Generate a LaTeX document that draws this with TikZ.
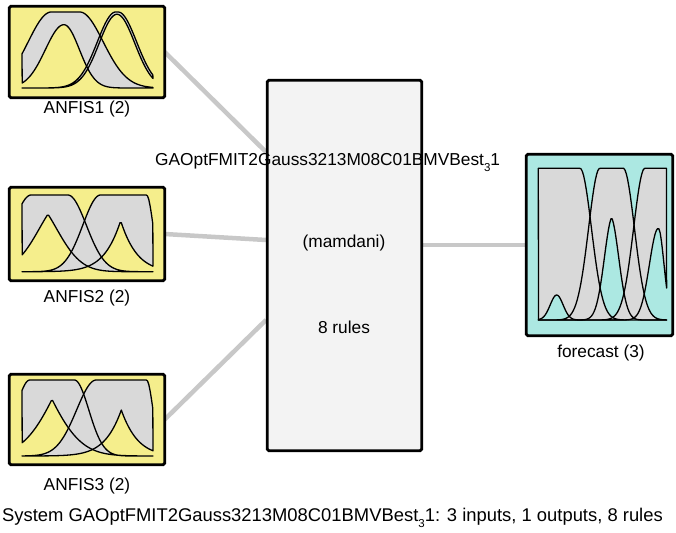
\documentclass[tikz,border=0pt]{standalone}
\usepackage{fontspec}
\setmainfont{Liberation Sans}
\definecolor{inyellow}{RGB}{245,238,140}
\definecolor{outteal}{RGB}{172,232,226}
\definecolor{mfgray}{RGB}{217,217,217}
\definecolor{sysfill}{RGB}{243,243,243}
\definecolor{linkgray}{RGB}{200,200,200}
\pgfdeclarelayer{bg}
\pgfsetlayers{bg,main}
% upper MF: flat top between c1 and c2, gaussian sides (u,c1,c2,sL,sR)
\pgfmathdeclarefunction{upmf}{5}{%
  \begingroup
  \pgfmathparse{((#1)<(#2))*exp(-min((((#1)-(#2))*((#1)-(#2)))/(2*(#4)*(#4)),15)) + ((#1)>(#3))*exp(-min((((#1)-(#3))*((#1)-(#3)))/(2*(#5)*(#5)),15)) + (1-((#1)<(#2)))*(1-((#1)>(#3)))}%
  \pgfmathsmuggle\pgfmathresult
  \endgroup}
% lower MF: peak (u,m,h,XL,XR,k)
\pgfmathdeclarefunction{lomf}{6}{%
  \begingroup
  \pgfmathparse{(#3)*exp(-min(((abs((#1)-(#2))+(#6))*(abs((#1)-(#2))+(#6))-(#6)*(#6))/(((#1)<(#2))*(#4)+(1-((#1)<(#2)))*(#5)),15))}%
  \pgfmathsmuggle\pgfmathresult
  \endgroup}
\newcommand\MFfill[9]{\fill[mfgray] plot[domain=0:1,samples=100] (\x,{upmf(\x,#1,#2,#3,#4)}) -- plot[domain=1:0,samples=100] (\x,{lomf(\x,#5,#6,#7,#8,#9)}) -- cycle;}
\newcommand\MFdraw[9]{\draw[mfline] plot[domain=0:1,samples=100] (\x,{upmf(\x,#1,#2,#3,#4)}) -- plot[domain=1:0,samples=100] (\x,{lomf(\x,#5,#6,#7,#8,#9)}) -- cycle;}
\newcommand\subthree{\raisebox{-6pt}{\fontsize{11.5}{12}\selectfont 3}}
\begin{document}
\begin{tikzpicture}[x=1pt,y=-1pt,
  inbox/.style={draw=black,line width=2.8pt,fill=inyellow,inner sep=0pt,outer sep=0pt,rounded corners=1.5pt,minimum width=155.4pt},
  outbox/.style={draw=black,line width=2.8pt,fill=outteal,inner sep=0pt,outer sep=0pt,rounded corners=1.5pt},
  sysbox/.style={draw=black,line width=2.8pt,fill=sysfill,inner sep=0pt,outer sep=0pt,rounded corners=1.5pt},
  lbl/.style={inner sep=0pt,font=\fontsize{17.3}{20}\selectfont},
  link/.style={draw=linkgray,line width=4.5pt},
  mfline/.style={draw=black,line width=1.3pt,line join=round}]
\useasboundingbox (0,0) rectangle (676,532);
% boxes
\node[inbox,minimum height=91.4pt] (a1) at (87,52) {};
\node[inbox,minimum height=93.4pt] (a2) at (87,234) {};
\node[inbox,minimum height=90.4pt] (a3) at (87,419.5) {};
\node[sysbox,minimum width=154.4pt,minimum height=370.4pt] (sys) at (344.5,265.5) {};
\node[outbox,minimum width=146.4pt,minimum height=181.4pt] (fc) at (599.5,245) {};
% connectors
\coordinate (m1) at (266,152);
\coordinate (m2) at (266,240);
\coordinate (m3) at (266,320);
\coordinate (m4) at (423,245);
\begin{pgfonlayer}{bg}
\draw[link] (a1.east) -- (m1);
\draw[link] (a2.east) -- (m2);
\draw[link] (a3.east) -- (m3);
\draw[link] (m4) -- (fc.west);
\end{pgfonlayer}
% ANFIS1 membership functions
\begin{scope}[shift={(22,88)},x=131pt,y=76pt]
\MFfill{0.224}{0.44}{0.177}{0.18}{0.32}{0.833}{0.04}{0.028}{0}
\MFfill{0.716}{0.734}{0.141}{0.141}{0.725}{0.97}{0.037}{0.037}{0}
\MFdraw{0.224}{0.44}{0.177}{0.18}{0.32}{0.833}{0.04}{0.028}{0}
\MFdraw{0.716}{0.734}{0.141}{0.141}{0.725}{0.97}{0.037}{0.037}{0}
\end{scope}
% ANFIS2
\begin{scope}[shift={(22,271.7)},x=131pt,y=76.7pt]
\MFfill{0.07}{0.35}{0.141}{0.141}{0.198}{0.75}{0.072}{0.072}{0.126}
\MFfill{0.6}{0.95}{0.136}{0.05}{0.753}{0.665}{0.25}{0.25}{1}
\MFdraw{0.07}{0.35}{0.141}{0.141}{0.198}{0.75}{0.072}{0.072}{0.126}
\MFdraw{0.6}{0.95}{0.136}{0.05}{0.753}{0.665}{0.25}{0.25}{1}
\end{scope}
% ANFIS3
\begin{scope}[shift={(22,456)},x=131pt,y=76pt]
\MFfill{0.06}{0.40}{0.11}{0.11}{0.229}{0.746}{0.13}{0.13}{0.3}
\MFfill{0.567}{0.95}{0.15}{0.05}{0.758}{0.605}{0.25}{0.25}{1}
\MFdraw{0.06}{0.40}{0.11}{0.11}{0.229}{0.746}{0.13}{0.13}{0.3}
\MFdraw{0.567}{0.95}{0.15}{0.05}{0.758}{0.605}{0.25}{0.25}{1}
\end{scope}
% forecast
\begin{scope}[shift={(538.3,320)},x=128.3pt,y=151.7pt]
\MFfill{-0.5}{0.325}{0.1}{0.089}{0.143}{0.165}{0.005}{0.005}{0}
\MFfill{0.48}{0.662}{0.088}{0.087}{0.571}{0.677}{0.0085}{0.0085}{0.01}
\MFfill{0.831}{1.5}{0.088}{0.1}{0.935}{0.604}{0.0095}{0.004}{0}
\MFdraw{-0.5}{0.325}{0.1}{0.089}{0.143}{0.165}{0.005}{0.005}{0}
\MFdraw{0.48}{0.662}{0.088}{0.087}{0.571}{0.677}{0.0085}{0.0085}{0.01}
\MFdraw{0.831}{1.5}{0.088}{0.1}{0.935}{0.604}{0.0095}{0.004}{0}
\end{scope}
% labels
\node[lbl] (l1) at (87,109) {ANFIS1 (2)};
\node[lbl] (l2) at (87,298) {ANFIS2 (2)};
\node[lbl] (l3) at (87,486) {ANFIS3 (2)};
\node[lbl] (l4) at (601,353) {forecast (3)};
\node[lbl,anchor=base west] (title) at (155,165) {GAOptFMIT2Gauss3213M08C01BMVBest\subthree1};
\node[lbl] (type) at (344,243) {(mamdani)};
\node[lbl] (rules) at (344,327) {8 rules};
\node[lbl,anchor=base west,font=\fontsize{18.4}{20}\selectfont] (sum) at (2,521) {System GAOptFMIT2Gauss3213M08C01BMVBest\subthree1: 3 inputs, 1 outputs, 8 rules};
\end{tikzpicture}
\end{document}
